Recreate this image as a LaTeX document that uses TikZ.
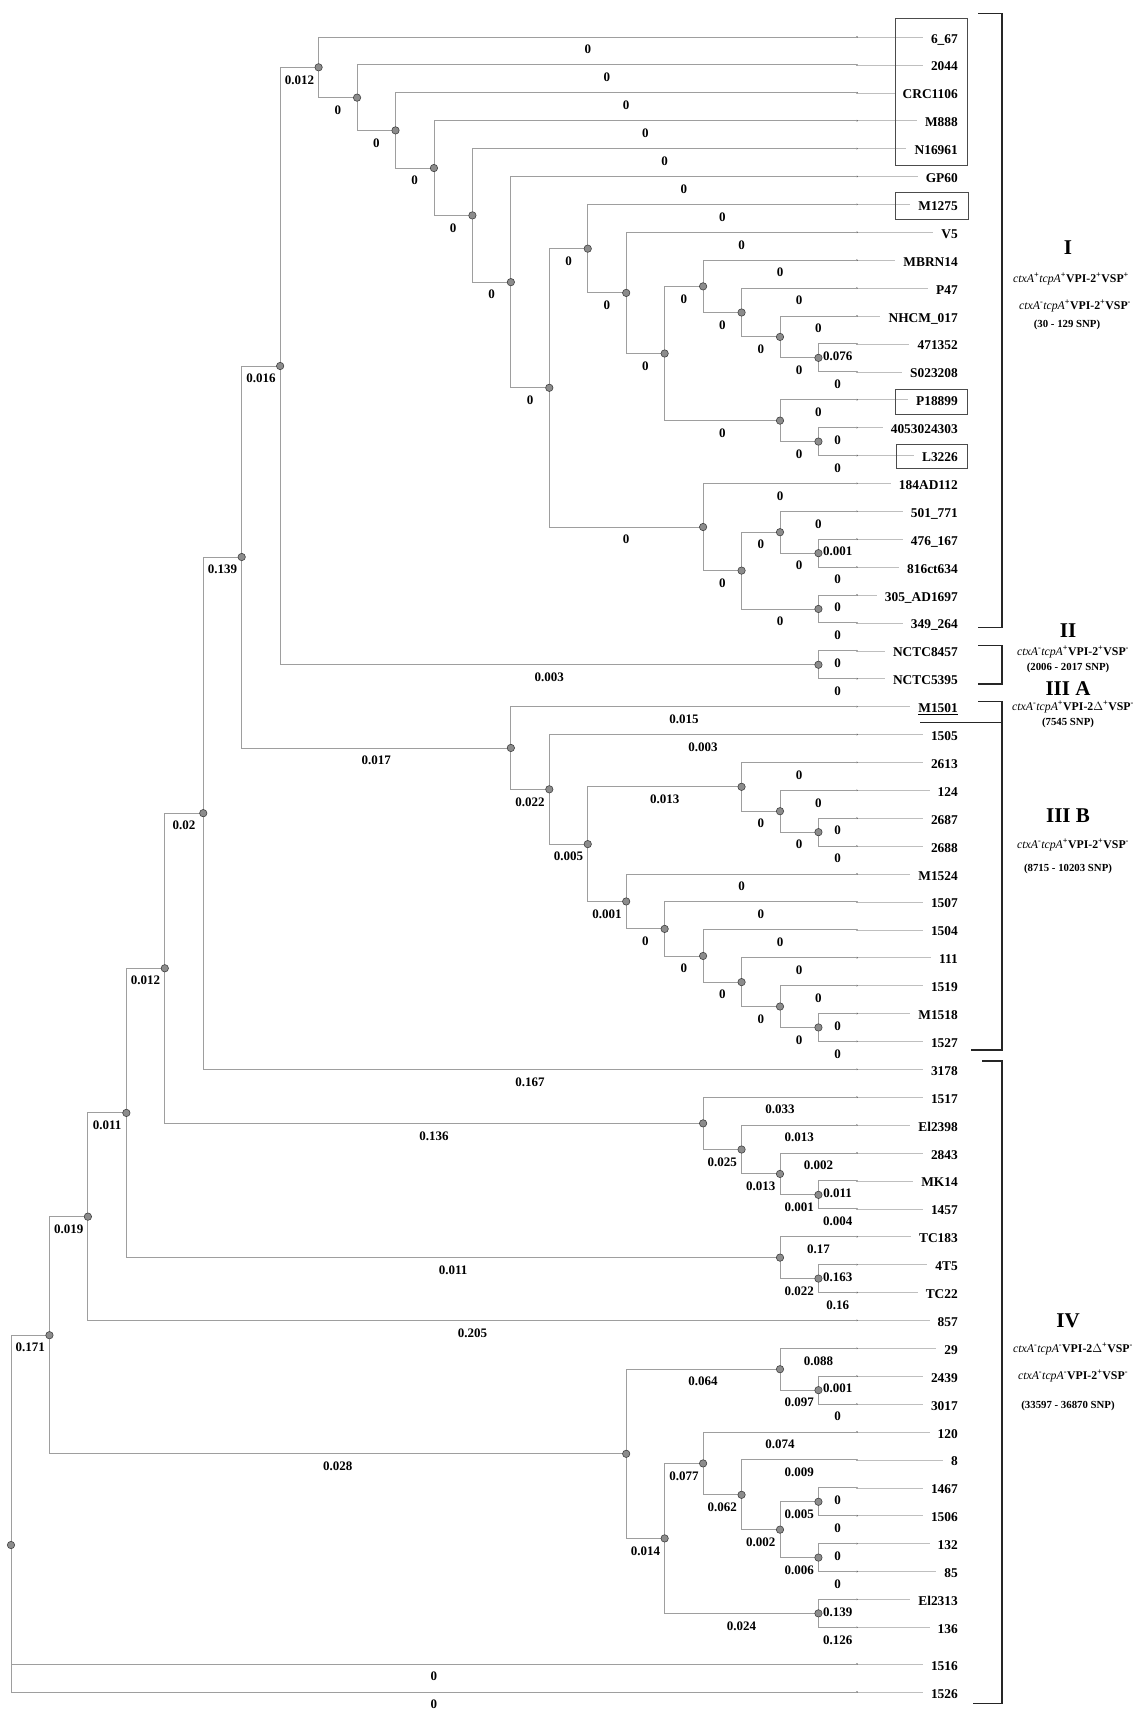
\documentclass[tikz,border=0pt]{standalone}
\usepackage{fontspec}
\setmainfont{Liberation Serif}
\newcommand{\gene}[1]{{\mdseries\itshape #1}}
\tikzset{
	branch/.style={draw=black!38, line width=0.9pt},
	twig/.style={draw=black!25, line width=0.6pt, shorten >=8pt},
	knot/.style={circle, draw=black!75, fill=black!45, line width=0.6pt, inner sep=0pt, minimum size=7.4pt},
	leaf/.style={anchor=base east, yshift=-6pt, inner sep=0pt, font=\bfseries\fontsize{13.4}{15}\selectfont},
	blen/.style={pos=0.75, yshift=-12.5pt, inner sep=0pt, font=\bfseries\fontsize{13}{15}\selectfont},
	clade/.style={draw=black!85, line width=1.5pt},
	tagbox/.style={draw=black!70, line width=0.8pt},
	grp/.style={inner sep=0pt, font=\bfseries\fontsize{21}{23}\selectfont},
	trait/.style={inner sep=0pt, font=\bfseries\fontsize{11.8}{13}\selectfont},
	snp/.style={inner sep=0pt, font=\bfseries\fontsize{10.8}{12}\selectfont}
}
\begin{document}
\begin{tikzpicture}[x=1pt, y=-1pt]
	\useasboundingbox (0,0) rectangle (1138,1709);

	\foreach \lab [count=\i from 0] in {6\_67,2044,CRC1106,M888,N16961,GP60,M1275,V5,MBRN14,P47,NHCM\_017,471352,S023208,P18899,4053024303,L3226,184AD112,501\_771,476\_167,816ct634,305\_AD1697,349\_264,NCTC8457,NCTC5395,\underline{M1501},1505,2613,124,2687,2688,M1524,1507,1504,111,1519,M1518,1527,3178,1517,El2398,2843,MK14,1457,TC183,4T5,TC22,857,29,2439,3017,120,8,1467,1506,132,85,El2313,136}{
		\pgfmathsetmacro\yy{37+27.9*\i}
		\coordinate (t\i) at (856.9,\yy);
		\node[leaf] (l\i) at (958,\yy) {\lab};
	}
	\coordinate (t58) at (856.9,1664);
	\node[leaf] (l58) at (958,1664) {1516};
	\coordinate (t59) at (856.9,1692);
	\node[leaf] (l59) at (958,1692) {1526};

	\foreach \i in {0,...,59}{
		\draw[twig] (t\i) -- (t\i -| l\i.west);
		\fill[black!65] (t\i) circle (0.9pt);
	}

	\coordinate (root) at (11.0,1545);
	\coordinate (r1) at (49.45,1335.2);
	\coordinate (c019) at (87.9,1216.65);
	\coordinate (c011) at (126.35,1112.9);
	\coordinate (c012) at (164.8,968.25);
	\coordinate (c020) at (203.25,813.15);
	\coordinate (c139) at (241.7,557.0);
	\coordinate (c016) at (280.15,366.0);
	\coordinate (a1) at (318.6,67.3);
	\coordinate (a2) at (357.05,97.65);
	\coordinate (a3) at (395.5,130.4);
	\coordinate (a4) at (433.95,168.05);
	\coordinate (a5) at (472.4,215.4);
	\coordinate (a6) at (510.85,282.15);
	\coordinate (a7) at (549.3,387.8);
	\coordinate (a8) at (587.75,248.65);
	\coordinate (a9) at (626.2,292.9);
	\coordinate (a10) at (664.65,353.5);
	\coordinate (a11) at (703.1,286.35);
	\coordinate (a12) at (741.55,312.5);
	\coordinate (a13) at (780.0,336.9);
	\coordinate (a14) at (818.45,357.85);
	\coordinate (a15) at (780.0,420.6);
	\coordinate (a16) at (818.45,441.55);
	\coordinate (a17) at (703.1,527.0);
	\coordinate (a18) at (741.55,570.6);
	\coordinate (a19) at (780.0,532.2);
	\coordinate (a20) at (818.45,553.15);
	\coordinate (a21) at (818.45,608.95);
	\coordinate (nctc) at (818.45,664.75);
	\coordinate (b1) at (510.85,747.95);
	\coordinate (b2) at (549.3,789.3);
	\coordinate (b3) at (587.75,844.1);
	\coordinate (b4) at (741.55,786.8);
	\coordinate (b5) at (780.0,811.2);
	\coordinate (b6) at (818.45,832.15);
	\coordinate (b7) at (626.2,901.45);
	\coordinate (b8) at (664.65,928.9);
	\coordinate (b9) at (703.1,955.95);
	\coordinate (b10) at (741.55,982.1);
	\coordinate (b11) at (780.0,1006.5);
	\coordinate (b12) at (818.45,1027.45);
	\coordinate (d1) at (703.1,1123.35);
	\coordinate (d2) at (741.55,1149.5);
	\coordinate (d3) at (780.0,1173.9);
	\coordinate (d4) at (818.45,1194.85);
	\coordinate (e1) at (780.0,1257.6);
	\coordinate (e2) at (818.45,1278.55);
	\coordinate (f1) at (626.2,1453.8);
	\coordinate (f2) at (780.0,1369.2);
	\coordinate (f3) at (818.45,1390.15);
	\coordinate (f4) at (664.65,1538.4);
	\coordinate (f5) at (703.1,1463.4);
	\coordinate (f6) at (741.55,1494.8);
	\coordinate (f7) at (780.0,1529.65);
	\coordinate (f8) at (818.45,1501.75);
	\coordinate (f9) at (818.45,1557.55);
	\coordinate (f10) at (818.45,1613.35);

	\draw[branch] (root) |- node[blen] {0.171} (r1);
	\draw[branch] (root) |- node[blen] {0} (t58);
	\draw[branch] (root) |- node[blen] {0} (t59);
	\draw[branch] (r1) |- node[blen] {0.019} (c019);
	\draw[branch] (r1) |- node[blen] {0.028} (f1);
	\draw[branch] (c019) |- node[blen] {0.011} (c011);
	\draw[branch] (c019) |- node[blen] {0.205} (t46);
	\draw[branch] (c011) |- node[blen] {0.012} (c012);
	\draw[branch] (c011) |- node[blen] {0.011} (e1);
	\draw[branch] (c012) |- node[blen] {0.02} (c020);
	\draw[branch] (c012) |- node[blen] {0.136} (d1);
	\draw[branch] (c020) |- node[blen] {0.139} (c139);
	\draw[branch] (c020) |- node[blen] {0.167} (t37);
	\draw[branch] (c139) |- node[blen] {0.016} (c016);
	\draw[branch] (c139) |- node[blen] {0.017} (b1);
	\draw[branch] (c016) |- node[blen] {0.012} (a1);
	\draw[branch] (c016) |- node[blen] {0.003} (nctc);
	\draw[branch] (nctc) |- node[blen] {0} (t22);
	\draw[branch] (nctc) |- node[blen] {0} (t23);

	\draw[branch] (a1) |- node[blen] {0} (t0);
	\draw[branch] (a1) |- node[blen] {0} (a2);
	\draw[branch] (a2) |- node[blen] {0} (t1);
	\draw[branch] (a2) |- node[blen] {0} (a3);
	\draw[branch] (a3) |- node[blen] {0} (t2);
	\draw[branch] (a3) |- node[blen] {0} (a4);
	\draw[branch] (a4) |- node[blen] {0} (t3);
	\draw[branch] (a4) |- node[blen] {0} (a5);
	\draw[branch] (a5) |- node[blen] {0} (t4);
	\draw[branch] (a5) |- node[blen] {0} (a6);
	\draw[branch] (a6) |- node[blen] {0} (t5);
	\draw[branch] (a6) |- node[blen] {0} (a7);
	\draw[branch] (a7) |- node[blen] {0} (a8);
	\draw[branch] (a7) |- node[blen] {0} (a17);
	\draw[branch] (a8) |- node[blen] {0} (t6);
	\draw[branch] (a8) |- node[blen] {0} (a9);
	\draw[branch] (a9) |- node[blen] {0} (t7);
	\draw[branch] (a9) |- node[blen] {0} (a10);
	\draw[branch] (a10) |- node[blen] {0} (a11);
	\draw[branch] (a10) |- node[blen] {0} (a15);
	\draw[branch] (a11) |- node[blen] {0} (t8);
	\draw[branch] (a11) |- node[blen] {0} (a12);
	\draw[branch] (a12) |- node[blen] {0} (t9);
	\draw[branch] (a12) |- node[blen] {0} (a13);
	\draw[branch] (a13) |- node[blen] {0} (t10);
	\draw[branch] (a13) |- node[blen] {0} (a14);
	\draw[branch] (a14) |- node[blen] {0.076} (t11);
	\draw[branch] (a14) |- node[blen] {0} (t12);
	\draw[branch] (a15) |- node[blen] {0} (t13);
	\draw[branch] (a15) |- node[blen] {0} (a16);
	\draw[branch] (a16) |- node[blen] {0} (t14);
	\draw[branch] (a16) |- node[blen] {0} (t15);
	\draw[branch] (a17) |- node[blen] {0} (t16);
	\draw[branch] (a17) |- node[blen] {0} (a18);
	\draw[branch] (a18) |- node[blen] {0} (a19);
	\draw[branch] (a18) |- node[blen] {0} (a21);
	\draw[branch] (a19) |- node[blen] {0} (t17);
	\draw[branch] (a19) |- node[blen] {0} (a20);
	\draw[branch] (a20) |- node[blen] {0.001} (t18);
	\draw[branch] (a20) |- node[blen] {0} (t19);
	\draw[branch] (a21) |- node[blen] {0} (t20);
	\draw[branch] (a21) |- node[blen] {0} (t21);

	\draw[branch] (b1) |- node[blen] {0.015} (t24);
	\draw[branch] (b1) |- node[blen] {0.022} (b2);
	\draw[branch] (b2) |- node[blen] {0.003} (t25);
	\draw[branch] (b2) |- node[blen] {0.005} (b3);
	\draw[branch] (b3) |- node[blen] {0.013} (b4);
	\draw[branch] (b3) |- node[blen] {0.001} (b7);
	\draw[branch] (b4) |- node[blen] {0} (t26);
	\draw[branch] (b4) |- node[blen] {0} (b5);
	\draw[branch] (b5) |- node[blen] {0} (t27);
	\draw[branch] (b5) |- node[blen] {0} (b6);
	\draw[branch] (b6) |- node[blen] {0} (t28);
	\draw[branch] (b6) |- node[blen] {0} (t29);
	\draw[branch] (b7) |- node[blen] {0} (t30);
	\draw[branch] (b7) |- node[blen] {0} (b8);
	\draw[branch] (b8) |- node[blen] {0} (t31);
	\draw[branch] (b8) |- node[blen] {0} (b9);
	\draw[branch] (b9) |- node[blen] {0} (t32);
	\draw[branch] (b9) |- node[blen] {0} (b10);
	\draw[branch] (b10) |- node[blen] {0} (t33);
	\draw[branch] (b10) |- node[blen] {0} (b11);
	\draw[branch] (b11) |- node[blen] {0} (t34);
	\draw[branch] (b11) |- node[blen] {0} (b12);
	\draw[branch] (b12) |- node[blen] {0} (t35);
	\draw[branch] (b12) |- node[blen] {0} (t36);

	\draw[branch] (d1) |- node[blen] {0.033} (t38);
	\draw[branch] (d1) |- node[blen] {0.025} (d2);
	\draw[branch] (d2) |- node[blen] {0.013} (t39);
	\draw[branch] (d2) |- node[blen] {0.013} (d3);
	\draw[branch] (d3) |- node[blen] {0.002} (t40);
	\draw[branch] (d3) |- node[blen] {0.001} (d4);
	\draw[branch] (d4) |- node[blen] {0.011} (t41);
	\draw[branch] (d4) |- node[blen] {0.004} (t42);
	\draw[branch] (e1) |- node[blen] {0.17} (t43);
	\draw[branch] (e1) |- node[blen] {0.022} (e2);
	\draw[branch] (e2) |- node[blen] {0.163} (t44);
	\draw[branch] (e2) |- node[blen] {0.16} (t45);

	\draw[branch] (f1) |- node[blen] {0.064} (f2);
	\draw[branch] (f1) |- node[blen] {0.014} (f4);
	\draw[branch] (f2) |- node[blen] {0.088} (t47);
	\draw[branch] (f2) |- node[blen] {0.097} (f3);
	\draw[branch] (f3) |- node[blen] {0.001} (t48);
	\draw[branch] (f3) |- node[blen] {0} (t49);
	\draw[branch] (f4) |- node[blen] {0.077} (f5);
	\draw[branch] (f4) |- node[blen] {0.024} (f10);
	\draw[branch] (f5) |- node[blen] {0.074} (t50);
	\draw[branch] (f5) |- node[blen] {0.062} (f6);
	\draw[branch] (f6) |- node[blen] {0.009} (t51);
	\draw[branch] (f6) |- node[blen] {0.002} (f7);
	\draw[branch] (f7) |- node[blen] {0.005} (f8);
	\draw[branch] (f7) |- node[blen] {0.006} (f9);
	\draw[branch] (f8) |- node[blen] {0} (t52);
	\draw[branch] (f8) |- node[blen] {0} (t53);
	\draw[branch] (f9) |- node[blen] {0} (t54);
	\draw[branch] (f9) |- node[blen] {0} (t55);
	\draw[branch] (f10) |- node[blen] {0.139} (t56);
	\draw[branch] (f10) |- node[blen] {0.126} (t57);

	\foreach \n in {root,r1,c019,c011,c012,c020,c139,c016,a1,a2,a3,a4,a5,a6,a7,a8,a9,a10,a11,a12,a13,a14,a15,a16,a17,a18,a19,a20,a21,nctc,b1,b2,b3,b4,b5,b6,b7,b8,b9,b10,b11,b12,d1,d2,d3,d4,e1,e2,f1,f2,f3,f4,f5,f6,f7,f8,f9,f10}
		\node[knot] (k\n) at (\n) {};

	\draw[tagbox] (895.7,18.3) rectangle (967.7,165);
	\draw[tagbox] (895.7,192.3) rectangle (968.3,219);
	\draw[tagbox] (895.7,389.3) rectangle (967.3,414.3);
	\draw[tagbox] (896.3,444.3) rectangle (967.3,468.3);

	\draw[clade] (978,13.3) -- (1002,13.3) -- (1002,627.7) -- (978,627.7);
	\draw[clade] (978,645.7) -- (1002,645.7) -- (1002,684) -- (978,684);
	\draw[clade] (978,701.7) -- (1002,701.7) -- (1002,722.7) -- (920,722.7);
	\draw[clade] (1002,722.7) -- (1002,1050) -- (971,1050);
	\draw[clade] (982,1061) -- (1002,1061) -- (1002,1703.3) -- (973,1703.3);

	\node[grp] (gI) at (1068,248) {I};
	\node[trait] (gIa) at (1071,279) {\gene{ctxA}\textsuperscript{+}\gene{tcpA}\textsuperscript{+}VPI-2\textsuperscript{+}VSP\textsuperscript{+}};
	\node[trait] (gIb) at (1075,306) {\gene{ctxA}\textsuperscript{-}\gene{tcpA}\textsuperscript{+}VPI-2\textsuperscript{+}VSP\textsuperscript{-}};
	\node[snp] (gIc) at (1067,325) {(30 - 129 SNP)};

	\node[grp] (gII) at (1068,631) {II};
	\node[trait] (gIIa) at (1073,652) {\gene{ctxA}\textsuperscript{-}\gene{tcpA}\textsuperscript{+}VPI-2\textsuperscript{+}VSP\textsuperscript{-}};
	\node[snp] (gIIb) at (1068,668) {(2006 - 2017 SNP)};

	\node[grp] (gIIIA) at (1068,689) {III A};
	\node[trait] (gIIIAa) at (1073,707) {\gene{ctxA}\textsuperscript{-}\gene{tcpA}\textsuperscript{+}VPI-2$\Delta$\textsuperscript{+}VSP\textsuperscript{-}};
	\node[snp] (gIIIAb) at (1068,722.5) {(7545 SNP)};

	\node[grp] (gIIIB) at (1068,816) {III B};
	\node[trait] (gIIIBa) at (1073,845) {\gene{ctxA}\textsuperscript{-}\gene{tcpA}\textsuperscript{+}VPI-2\textsuperscript{+}VSP\textsuperscript{-}};
	\node[snp] (gIIIBb) at (1068,869) {(8715 - 10203 SNP)};

	\node[grp] (gIV) at (1068,1321) {IV};
	\node[trait] (gIVa) at (1073,1349) {\gene{ctxA}\textsuperscript{-}\gene{tcpA}\textsuperscript{-}VPI-2$\Delta$\textsuperscript{+}VSP\textsuperscript{-}};
	\node[trait] (gIVb) at (1073,1376) {\gene{ctxA}\textsuperscript{-}\gene{tcpA}\textsuperscript{-}VPI-2\textsuperscript{+}VSP\textsuperscript{-}};
	\node[snp] (gIVc) at (1068,1406) {(33597 - 36870 SNP)};
\end{tikzpicture}
\end{document}
